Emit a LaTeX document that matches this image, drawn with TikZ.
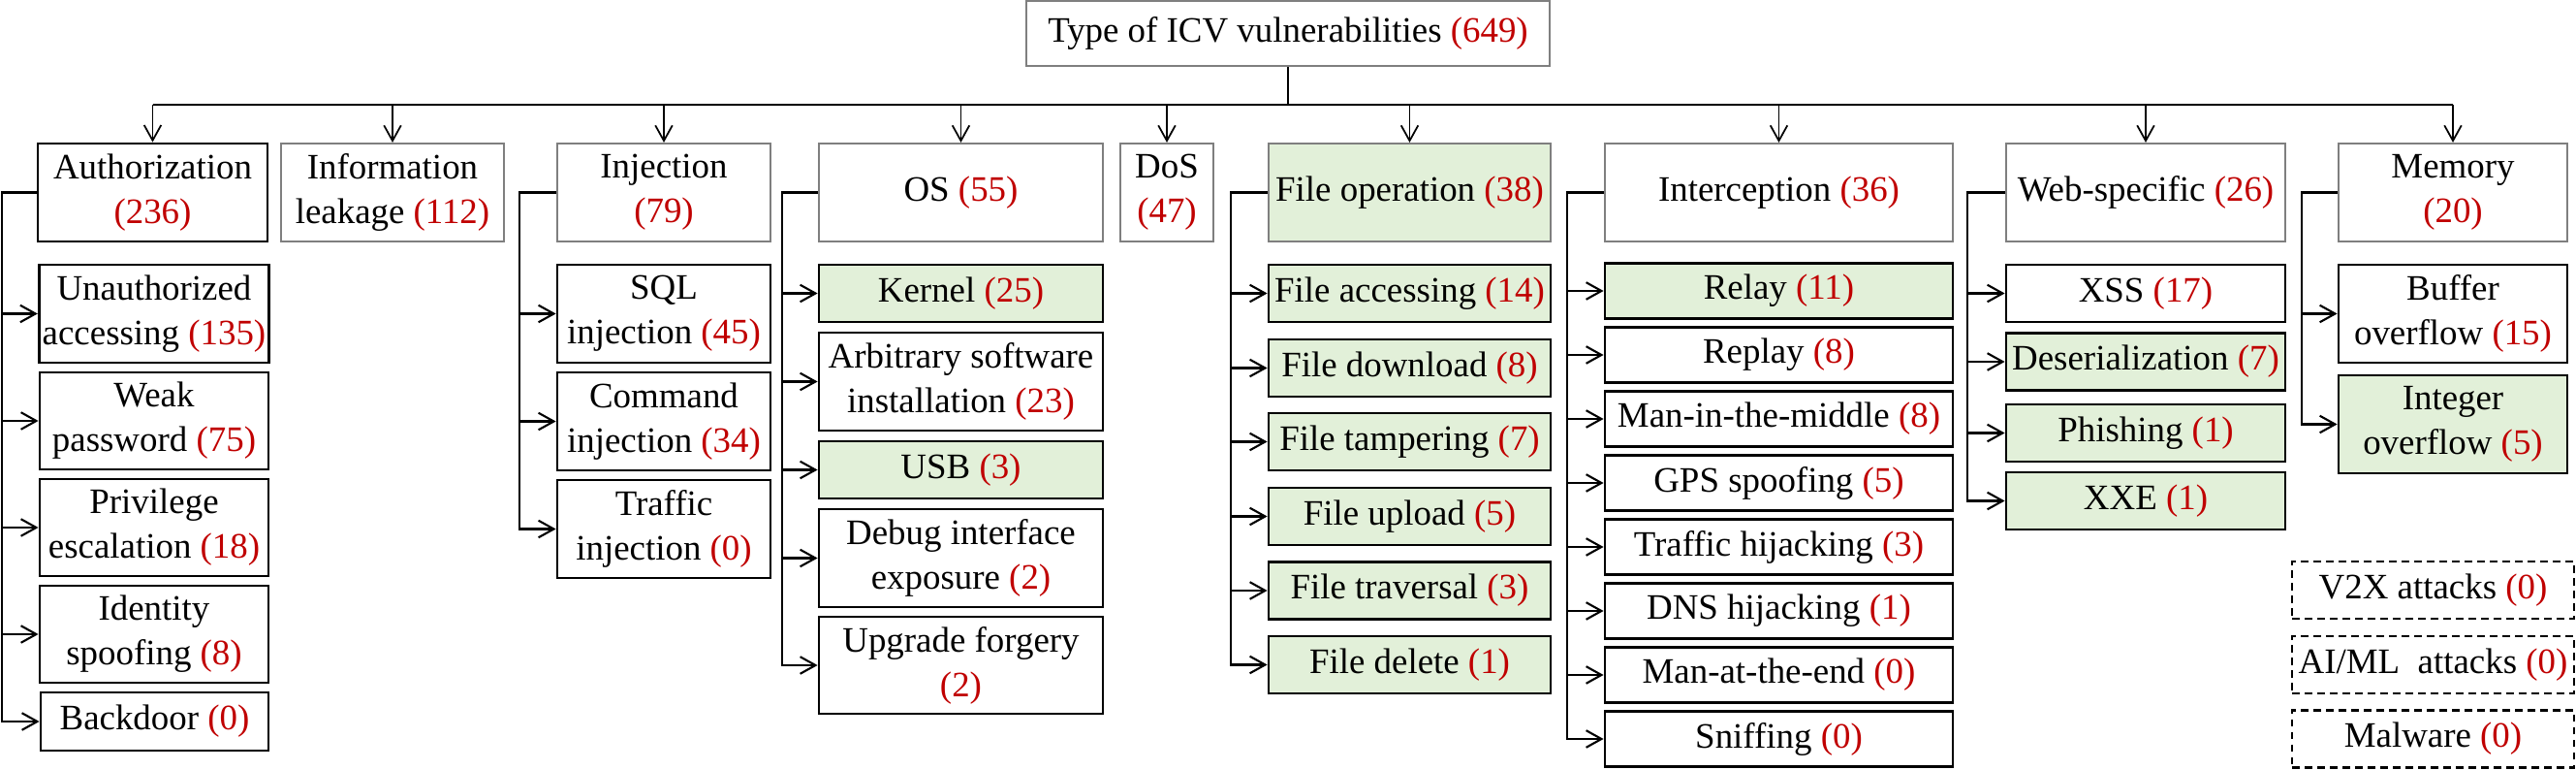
\documentclass[tikz,border=0pt]{standalone}
\usepackage{fontspec}
\setmainfont{Liberation Serif}
\usepackage{xcolor}
\usepackage{tikz}
\usetikzlibrary{arrows.meta}
\definecolor{kred}{HTML}{C00000}
\definecolor{kgreen}{HTML}{E2F0D9}
\definecolor{kgray}{HTML}{7F7F7F}
\newcommand{\vcount}[1]{\textcolor{kred}{(#1)}}
\tikzset{
  box/.style={draw=black, line width=0.8pt, align=center, inner sep=1pt,
    font=\fontsize{10.5}{13.1}\selectfont},
  topbox/.style={box, draw=kgray, line width=0.6pt, minimum height=1.01cm},
  hit/.style={fill=kgreen},
  extra/.style={box, dash pattern=on 2.2pt off 1.5pt, minimum width=2.91cm, minimum height=0.59cm},
  arr/.style={-{Straight Barb[length=4.5pt,width=5pt]}, line width=0.6pt},
}

\begin{document}
\begin{tikzpicture}[x=1cm, y=1cm]
\useasboundingbox (0,0) rectangle (26.58,-7.94);
\node[topbox, minimum width=5.40cm, minimum height=0.67cm] (root) at (13.29,-0.345) {Type of ICV vulnerabilities \vcount{649}};
\coordinate (bus) at (13.29,-1.08);
\node[box, minimum width=2.37cm, minimum height=1.01cm] (auth) at (1.575,-1.985) {Authorization\\\vcount{236}};
\node[topbox, minimum width=2.30cm] (info) at (4.05,-1.985) {Information\\leakage \vcount{112}};
\node[topbox, minimum width=2.20cm] (inj) at (6.85,-1.985) {Injection\\\vcount{79}};
\node[topbox, minimum width=2.93cm] (os) at (9.915,-1.985) {OS \vcount{55}};
\node[topbox, minimum width=0.96cm] (dos) at (12.04,-1.985) {DoS\\\vcount{47}};
\node[topbox, hit, minimum width=2.91cm] (fileop) at (14.545,-1.985) {File operation \vcount{38}};
\node[topbox, minimum width=3.59cm] (intc) at (18.355,-1.985) {Interception \vcount{36}};
\node[topbox, minimum width=2.88cm] (web) at (22.14,-1.985) {Web-specific \vcount{26}};
\node[topbox, minimum width=2.36cm] (mem) at (25.31,-1.985) {Memory\\\vcount{20}};
\draw[line width=0.6pt] (root) -- (bus);
\draw[line width=0.6pt] (bus -| auth) -- (bus -| mem);
\foreach \t in {auth,info,inj,os,dos,fileop,intc,web,mem}
  \draw[arr, line width=0.5pt] (bus -| \t) -- (\t.north);

\node[box, minimum width=2.36cm, minimum height=1.01cm] (unauth) at (1.59,-3.235) {Unauthorized\\accessing \vcount{135}};
\node[box, minimum width=2.36cm, minimum height=1.00cm] (weak) at (1.59,-4.34) {Weak\\password \vcount{75}};
\node[box, minimum width=2.36cm, minimum height=1.00cm] (priv) at (1.59,-5.44) {Privilege\\escalation \vcount{18}};
\node[box, minimum width=2.36cm, minimum height=1.00cm] (ident) at (1.59,-6.54) {Identity\\spoofing \vcount{8}};
\node[box, minimum width=2.35cm, minimum height=0.60cm] (backdoor) at (1.595,-7.44) {Backdoor \vcount{0}};

\node[box, minimum width=2.20cm, minimum height=1.01cm] (sql) at (6.85,-3.235) {SQL\\injection \vcount{45}};
\node[box, minimum width=2.20cm, minimum height=1.01cm] (cmd) at (6.85,-4.345) {Command\\injection \vcount{34}};
\node[box, minimum width=2.20cm, minimum height=1.01cm] (traffic) at (6.85,-5.455) {Traffic\\injection \vcount{0}};

\node[box, hit, minimum width=2.93cm, minimum height=0.59cm] (kernel) at (9.915,-3.025) {Kernel \vcount{25}};
\node[box, minimum width=2.93cm, minimum height=1.01cm] (arb) at (9.915,-3.935) {Arbitrary software\\installation \vcount{23}};
\node[box, hit, minimum width=2.93cm, minimum height=0.59cm] (usb) at (9.915,-4.845) {USB \vcount{3}};
\node[box, minimum width=2.93cm, minimum height=1.01cm] (debug) at (9.915,-5.755) {Debug interface\\exposure \vcount{2}};
\node[box, minimum width=2.93cm, minimum height=1.00cm] (upgrade) at (9.915,-6.86) {Upgrade forgery\\\vcount{2}};

\node[box, hit, minimum width=2.91cm, minimum height=0.59cm] (facc) at (14.545,-3.025) {File accessing \vcount{14}};
\node[box, hit, minimum width=2.91cm, minimum height=0.59cm] (fdown) at (14.545,-3.795) {File download \vcount{8}};
\node[box, hit, minimum width=2.91cm, minimum height=0.59cm] (ftamp) at (14.545,-4.555) {File tampering \vcount{7}};
\node[box, hit, minimum width=2.91cm, minimum height=0.59cm] (fup) at (14.545,-5.325) {File upload \vcount{5}};
\node[box, hit, minimum width=2.91cm, minimum height=0.59cm] (ftrav) at (14.545,-6.09) {File traversal \vcount{3}};
\node[box, hit, minimum width=2.91cm, minimum height=0.59cm] (fdel) at (14.545,-6.855) {File delete \vcount{1}};

\node[box, hit, minimum width=3.59cm, minimum height=0.57cm] (relay) at (18.355,-3.00) {Relay \vcount{11}};
\node[box, minimum width=3.59cm, minimum height=0.57cm] (replay) at (18.355,-3.66) {Replay \vcount{8}};
\node[box, minimum width=3.59cm, minimum height=0.57cm] (mitm) at (18.355,-4.32) {Man-in-the-middle \vcount{8}};
\node[box, minimum width=3.59cm, minimum height=0.57cm] (gps) at (18.355,-4.98) {GPS spoofing \vcount{5}};
\node[box, minimum width=3.59cm, minimum height=0.57cm] (thij) at (18.355,-5.64) {Traffic hijacking \vcount{3}};
\node[box, minimum width=3.59cm, minimum height=0.57cm] (dns) at (18.355,-6.30) {DNS hijacking \vcount{1}};
\node[box, minimum width=3.59cm, minimum height=0.57cm] (mate) at (18.355,-6.96) {Man-at-the-end \vcount{0}};
\node[box, minimum width=3.59cm, minimum height=0.57cm] (sniff) at (18.355,-7.62) {Sniffing \vcount{0}};

\node[box, minimum width=2.88cm, minimum height=0.59cm] (xss) at (22.14,-3.025) {XSS \vcount{17}};
\node[box, hit, minimum width=2.88cm, minimum height=0.59cm] (deser) at (22.14,-3.73) {Deserialization \vcount{7}};
\node[box, hit, minimum width=2.88cm, minimum height=0.59cm] (phish) at (22.14,-4.465) {Phishing \vcount{1}};
\node[box, hit, minimum width=2.88cm, minimum height=0.59cm] (xxe) at (22.14,-5.165) {XXE \vcount{1}};

\node[box, minimum width=2.36cm, minimum height=1.01cm] (buffer) at (25.31,-3.235) {Buffer\\overflow \vcount{15}};
\node[box, hit, minimum width=2.36cm, minimum height=1.01cm] (integer) at (25.31,-4.375) {Integer\\overflow \vcount{5}};

\node[extra] (v2x) at (25.105,-6.085) {V2X attacks \vcount{0}};
\node[extra] (aiml) at (25.105,-6.855) {AI/ML\ \ attacks \vcount{0}};
\node[extra] (malware) at (25.105,-7.62) {Malware \vcount{0}};

\coordinate (authbus) at (0.02,-1.985);
\coordinate (injbus) at (5.36,-1.985);
\coordinate (osbus) at (8.07,-1.985);
\coordinate (filebus) at (12.70,-1.985);
\coordinate (intcbus) at (16.17,-1.985);
\coordinate (webbus) at (20.30,-1.985);
\coordinate (membus) at (23.75,-1.985);
\foreach \c in {unauth,weak,priv,ident,backdoor}
  \draw[arr] (auth.west) -- (authbus) |- (\c.west);
\foreach \c in {sql,cmd,traffic}
  \draw[arr] (inj.west) -- (injbus) |- (\c.west);
\foreach \c in {kernel,arb,usb,debug,upgrade}
  \draw[arr] (os.west) -- (osbus) |- (\c.west);
\foreach \c in {facc,fdown,ftamp,fup,ftrav,fdel}
  \draw[arr] (fileop.west) -- (filebus) |- (\c.west);
\foreach \c in {relay,replay,mitm,gps,thij,dns,mate,sniff}
  \draw[arr] (intc.west) -- (intcbus) |- (\c.west);
\foreach \c in {xss,deser,phish,xxe}
  \draw[arr] (web.west) -- (webbus) |- (\c.west);
\foreach \c in {buffer,integer}
  \draw[arr] (mem.west) -- (membus) |- (\c.west);
\end{tikzpicture}
\end{document}
